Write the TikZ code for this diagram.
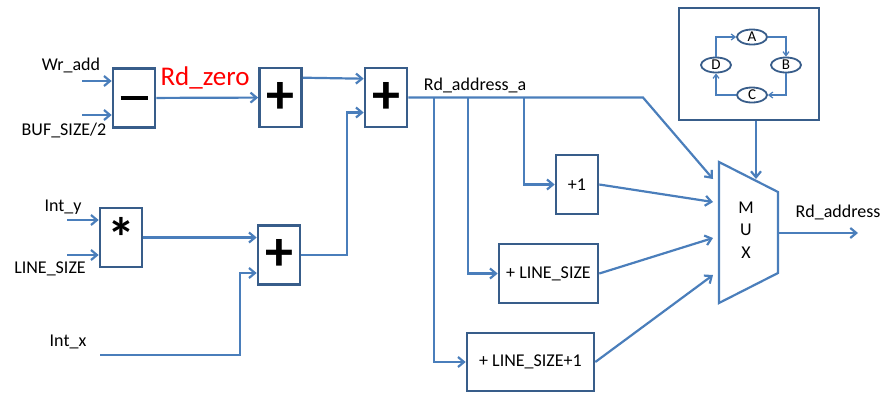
\documentclass[tikz,border=0pt]{standalone}
\usepackage{fontspec}
\setmainfont{Carlito}
\usepackage{xcolor}
\usepackage{tikz}
\usetikzlibrary{
  arrows.meta,
  positioning,
  calc,
  shapes.geometric,
}
\definecolor{wireblue}{RGB}{74,126,187}
\definecolor{boxblue}{RGB}{56,93,138}
\definecolor{zerored}{RGB}{255,0,0}

\begin{document}
\begin{tikzpicture}[
  x=1pt, y=-1pt,
  font=\fontsize{18}{19}\selectfont,
  every node/.style={align=center, inner sep=0pt},
  opbox/.style={draw=boxblue, line width=2.6pt, fill=white,
    minimum width=42pt, minimum height=59pt},
  opsym/.style={font=\fontsize{56}{56}\selectfont\bfseries},
  wire/.style={draw=wireblue, line width=2.2pt},
  feed/.style={wire, -{Straight Barb[length=6pt,width=10pt]}},
  state/.style={draw=boxblue, line width=1.8pt, ellipse,
    minimum width=30pt, minimum height=15pt, font=\fontsize{15}{15}\selectfont},
  ring/.style={draw=wireblue, line width=1.2pt, -{Straight Barb[length=4pt,width=6pt]}},
]
\useasboundingbox (0,0) rectangle (886,392);

% arithmetic blocks
\node[opbox] (sub) at (134,98) {\rule[0pt]{27pt}{3.6pt}};
\node[opbox, opsym] (addA) at (280.5,97.5) {+};
\node[opbox, opsym] (addB) at (386,97.5) {+};
\node[opbox, opsym] (mulb) at (121,237.5) {\raisebox{-0.32em}{*}};
\node[opbox, opsym] (addC) at (279,255) {+};

\node[opbox] (inc1) at (577,184.5) {+1};
\node[opbox, minimum width=99pt] (incL) at (548.5,273.5) {+ LINE\_SIZE};
\node[opbox, minimum width=127pt, minimum height=58pt] (incL1) at (530.5,362) {+ LINE\_SIZE+1};

% input labels
\node (wrl) at (71,65) {Wr\_add};
\node (bufl) at (64,130) {BUF\_SIZE/2};
\node (intyl) at (63,207) {Int\_y};
\node (linel) at (50,269) {LINE\_SIZE};
\node (intxl) at (68,342) {Int\_x};
\node[text=zerored, font=\fontsize{27}{27}\selectfont] (zerol) at (205,78) {Rd\_zero};
\node (rdal) at (475,85) {Rd\_address\_a};
\node (rdl) at (838,212) {Rd\_address};

\coordinate (wrin) at (82,81);
\coordinate (bufin) at (82,115);
\coordinate (yin) at (67,220);
\coordinate (lin) at (67,255);
\coordinate (xin) at (100,355);

\draw[feed] (wrin) -- (wrin -| sub.west);
\draw[feed] (bufin) -- (bufin -| sub.west);
\draw[feed] (yin) -- (yin -| mulb.west);
\draw[feed] (lin) -- (lin -| mulb.west);

\draw[feed] (sub) -- (addA);
\draw[feed] ([yshift=-11pt]addA.north east) -- ([yshift=-12pt]addB.north west);
\draw[feed] (mulb.east) -- (mulb.east -| addC.west);
\draw[feed] (xin) -| ([xshift=-17pt,yshift=-18pt]addC.west) -- ([yshift=-18pt]addC.west);
\draw[feed] (addC.east) -| ([xshift=-17pt,yshift=-15pt]addB.west) -- ([yshift=-15pt]addB.west);

% mux
\coordinate (mtl) at (719,162);
\coordinate (mtr) at (778,192);
\coordinate (mbr) at (778,273);
\coordinate (mbl) at (719,303);
\draw[wire, line join=miter] (mtl) -- (mtr) -- (mbr) -- (mbl) -- cycle;
\node[font=\fontsize{18}{22.5}\selectfont] (muxl) at (746,230) {M\\U\\X};

\coordinate (mA) at (713,179);
\coordinate (mB) at (713,202);
\coordinate (mC) at (713,238);
\coordinate (mD) at (713,275);
\coordinate (bend) at (643,97.5);

\path (addB.east) ++(26,0) coordinate (tap1) ++(34,0) coordinate (tap2) ++(56,0) coordinate (tap3);
\draw[feed] (addB.east) -- (bend) -- (mA);
\draw[feed] (tap1) |- (incL1.west);
\draw[feed] (tap2) |- (incL.west);
\draw[feed] (tap3) |- (inc1.west);

\draw[feed] (inc1.east) -- (mB);
\draw[feed] (incL.east) -- (mC);
\draw[feed] (incL1.east) -- (mD);

\coordinate (mout) at (778,233);
\coordinate (rdout) at (858,233);
\draw[feed] (mout) -- (rdout);

% state machine
\node[draw=boxblue, line width=2.6pt, minimum width=140pt, minimum height=112pt] (fsm) at (749,64) {};
\node[state] (A) at (752,37) {A};
\node[state] (B) at (786,65) {B};
\node[state] (C) at (752,95) {C};
\node[state] (D) at (716,65) {D};
\draw[ring] (D.north) |- (A.west);
\draw[ring] (A.east) -| (B.north);
\draw[ring] (B.south) |- (C.east);
\draw[ring] (C.west) -| (D.south);

\coordinate (msel) at (756,179);
\draw[feed] ([xshift=7pt]fsm.south) -- (msel);

\end{tikzpicture}
\end{document}
